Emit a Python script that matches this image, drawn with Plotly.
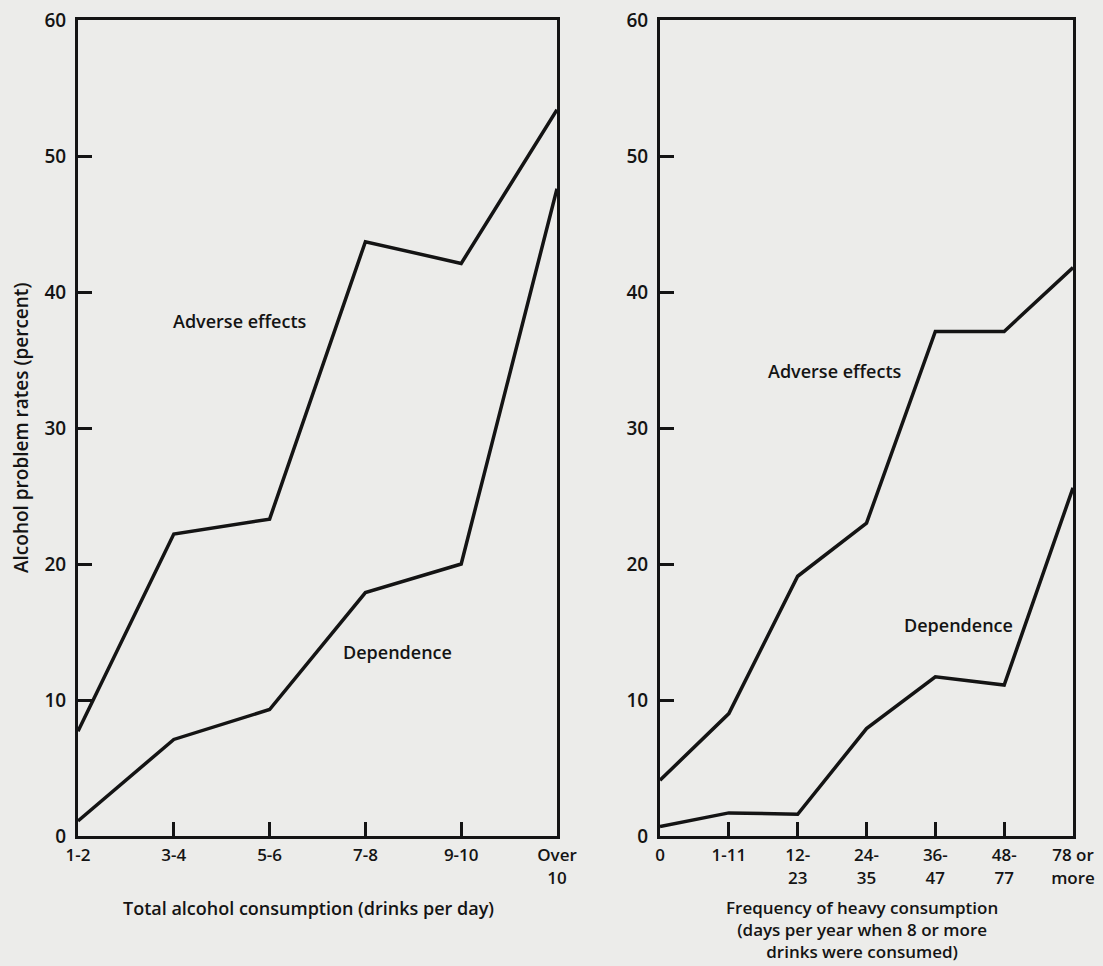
import plotly.graph_objects as go

# ---- data ----
left_categories = ["1-2", "3-4", "5-6", "7-8", "9-10", "Over<br>10"]
left_adverse = [7.7, 22.2, 23.3, 43.7, 42.1, 53.4]
left_dependence = [1.1, 7.1, 9.3, 17.9, 20.0, 47.6]

right_categories = ["0", "1-11", "12-<br>23", "24-<br>35", "36-<br>47", "48-<br>77", "78 or<br>more"]
right_adverse = [4.1, 9.0, 19.1, 23.0, 37.1, 37.1, 41.8]
right_dependence = [0.7, 1.7, 1.6, 7.9, 11.7, 11.1, 25.6]

y_ticks = [0, 10, 20, 30, 40, 50, 60]

INK = "#141414"
PAPER = "#ececea"
FONT = "Open Sans"

W, H = 1103, 966

fig = go.Figure()

lx = list(range(len(left_categories)))
rx = list(range(len(right_categories)))

for ys in (left_adverse, left_dependence):
    fig.add_trace(go.Scatter(x=lx, y=ys, mode="lines", line=dict(color=INK, width=3.5),
                             xaxis="x", yaxis="y", showlegend=False, hoverinfo="skip"))
for ys in (right_adverse, right_dependence):
    fig.add_trace(go.Scatter(x=rx, y=ys, mode="lines", line=dict(color=INK, width=3.5),
                             xaxis="x2", yaxis="y2", showlegend=False, hoverinfo="skip"))

top_px, bot_px = 20, 836
ydom = [(H - bot_px) / H, (H - top_px) / H]

axis_common = dict(showgrid=False, zeroline=False, showline=True, linecolor=INK, linewidth=3,
                   mirror=True, ticks="inside", tickcolor=INK, tickwidth=2.5, ticklen=14,
                   automargin=False)

xfont = dict(size=17, family=FONT, weight=600)
yfont = dict(size=19, family=FONT, weight=600)

fig.update_layout(
    width=W, height=H,
    margin=dict(l=0, r=0, t=0, b=0),
    paper_bgcolor=PAPER, plot_bgcolor=PAPER,
    font=dict(family=FONT, color=INK, size=18, weight=600),
    xaxis=dict(domain=[78 / W, 557 / W], range=[0, len(left_categories) - 1],
               tickvals=lx, ticktext=left_categories, anchor="y",
               tickfont=xfont, ticklabelstandoff=2, **axis_common),
    yaxis=dict(domain=ydom, range=[0, 60], tickvals=y_ticks, anchor="x",
               tickfont=yfont, ticklabelstandoff=5, **axis_common),
    xaxis2=dict(domain=[660 / W, 1073 / W], range=[0, len(right_categories) - 1],
                tickvals=rx, ticktext=right_categories, anchor="y2",
                tickfont=xfont, ticklabelstandoff=2, **axis_common),
    yaxis2=dict(domain=ydom, range=[0, 60], tickvals=y_ticks, anchor="x2",
                tickfont=yfont, ticklabelstandoff=5, **axis_common),
)

def ann(text, x, y, xref, yref, size=18, angle=0, xanchor="center"):
    fig.add_annotation(text=text, x=x, y=y, xref=xref, yref=yref, showarrow=False,
                       font=dict(size=size, family=FONT, color=INK, weight=600),
                       textangle=angle, xanchor=xanchor, yanchor="middle")

# series labels
ann("Adverse effects", 1.69, 37.9, "x", "y")
ann("Dependence", 3.34, 13.5, "x", "y")
ann("Adverse effects", 2.54, 34.2, "x2", "y2")
ann("Dependence", 4.33, 15.5, "x2", "y2")

# axis titles
ann("Alcohol problem rates (percent)", 21 / W, 1 - 428 / H, "paper", "paper", size=19, angle=-90)
ann("Total alcohol consumption (drinks per day)", 308 / W, 1 - 908 / H, "paper", "paper", size=18)
ann("Frequency of heavy consumption<br>(days per year when 8 or more<br>drinks were consumed)",
    862 / W, 1 - 929 / H, "paper", "paper", size=17)

fig.write_html("out.html", config={"displayModeBar": False},
               post_script="document.body.style.margin='0';document.body.style.background='%s';" % PAPER)
